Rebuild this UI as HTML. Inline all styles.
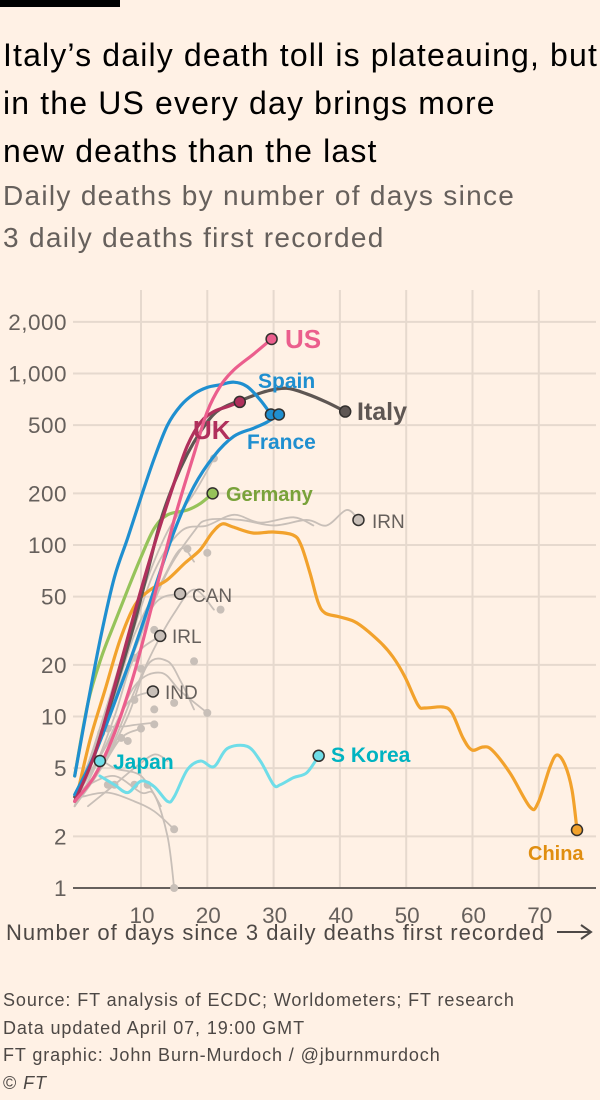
<!DOCTYPE html>
<html><head><meta charset="utf-8"><style>
body{margin:0;background:#fff1e5;}
#w{position:relative;width:600px;height:1100px;background:#fff1e5;font-family:"Liberation Sans",sans-serif;overflow:hidden}
.t{position:absolute;left:3px;color:#000;font-size:32px;line-height:48px;top:31px;letter-spacing:1.15px;white-space:nowrap}
.s{position:absolute;left:3px;color:#66605c;font-size:28px;line-height:42px;top:175px;letter-spacing:1.3px;white-space:nowrap}
.f{position:absolute;left:3px;color:#4d4845;font-size:18px;line-height:27.5px;top:987px;letter-spacing:0.9px;white-space:nowrap}
svg{position:absolute;left:0;top:0}
</style></head><body><div id="w">
<div style="position:absolute;left:0;top:0;width:120px;height:7px;background:#000"></div>
<div class="t">Italy’s daily death toll is plateauing, but<br>in the US every day brings more<br>new deaths than the last</div>
<div class="s">Daily deaths by number of days since<br>3 daily deaths first recorded</div>
<svg id="c" width="600" height="1100" viewBox="0 0 600 1100"></svg>
<div class="f">Source: FT analysis of ECDC; Worldometers; FT research<br>Data updated April 07, 19:00 GMT<br>FT graphic: John Burn-Murdoch / @jburnmurdoch<br>© <i>FT</i></div>
</div>
<script>
const svg=document.getElementById('c');let h='';
const Y=v=>888-171.5*Math.log10(v), X=d=>74.7+6.63*d;
[[2000,'2,000'],[1000,'1,000'],[500,'500'],[200,'200'],[100,'100'],[50,'50'],[20,'20'],[10,'10'],[5,'5'],[2,'2'],[1,'1']].forEach(([v,l])=>{const y=Y(v);
 if(v>1)h+=`<line x1="73" x2="596" y1="${y}" y2="${y}" stroke="#e6d9ce" stroke-width="2"/>`;
 h+=`<text x="67" y="${y+8}" text-anchor="end" font-size="22.5" letter-spacing="0.5" fill="#66605c">${l}</text>`;});
for(let d=10;d<=70;d+=10){const x=X(d);h+=`<line x1="${x}" x2="${x}" y1="290" y2="888" stroke="#e6d9ce" stroke-width="2"/><text x="${x+1}" y="923" text-anchor="middle" font-size="22.5" fill="#66605c">${d}</text>`;}
h+=`<line x1="73" x2="596" y1="888" y2="888" stroke="#66605c" stroke-width="2"/>`;
function sm(p){let s=`M${p[0][0]},${p[0][1]}`;for(let i=0;i<p.length-1;i++){const a=p[Math.max(0,i-1)],b=p[i],c=p[i+1],d=p[Math.min(p.length-1,i+2)];
 s+=` C${b[0]+(c[0]-a[0])/6},${b[1]+(c[1]-a[1])/6} ${c[0]-(d[0]-b[0])/6},${c[1]-(d[1]-b[1])/6} ${c[0]},${c[1]}`;}return s;}
function dv(arr){return arr.map(([d,v])=>[X(d),Y(v)]);}
function line(p,col,w){h+=`<path d="${sm(p)}" fill="none" stroke="${col}" stroke-width="${w}" stroke-linejoin="round" stroke-linecap="round"/>`;}
function dot(x,y,col,r){h+=`<circle cx="${x}" cy="${y}" r="${r||5.5}" fill="${col}" stroke="#33302e" stroke-width="1.5"/>`;}
function txt(x,y,s,col,sz,b){h+=`<text x="${x}" y="${y}" font-size="${sz}" fill="${col}" ${b?'font-weight="bold"':''}>${s}</text>`;}
const G='#c8bfb8';
const grays=[
[[0,3],[3,6],[6,12],[10,30],[14,70],[18,120],[20,140],[25,140],[30,130],[35,140],[38,130],[41,160],[42.8,140]],
[[0,3.5],[4,8],[8,20],[12,45],[15.9,52]],
[[0,3],[3,5],[6,10],[9,22],[12.9,29.5]],
[[0,3.3],[4,6],[8,12],[11.8,14]],
[[0,3],[5,6],[9,14],[12,25],[15,40],[18,55],[21,42]],
[[0,3.5],[5,7],[9,15],[13,18],[16,14],[20,10.5]],
[[1,3.4],[5,3.6],[9,3.2],[12,2.8],[15,2.2]],
[[2,4],[6,4.5],[10,3.6],[12,3.5],[14,2],[15,1]],
[[1,4],[4,8],[8,8.8],[12,9.2]],
[[1,3.7],[4,5],[7,7.5],[10,8.5]],
[[2,3],[6,4],[9,5],[12,6],[14,5.5]],
[[0,3],[4,5],[8,10],[11,20],[14,21],[16,16],[18,11]],
[[0,3],[5,10],[9,30],[13,60],[16,95],[18,80]],
[[0,3],[4,8],[8,25],[12,70],[16,120],[20,130],[24,150],[28,135],[33,145],[36,130]],
[[0,3],[5,12],[10,50],[14,120],[18,200],[21,320]],
[[3,6],[6,5],[10,4.5],[13,3]],
];
grays.forEach(a=>line(dv(a),G,1.8));
[[15,1],[15,2.2],[12,11],[20,10.5],[9,12.5],[10,8.5],[12,9],[11,4],[9,4],[5,4],[6,4],[4,8],[5,8.5],[7,7.5],[8,7.2],[9,22],[10,19],[12,32],[22,42],[20,90],[17,95],[18,21],[21,320],[15,12]].forEach(([d,v])=>h+=`<circle cx="${X(d)}" cy="${Y(v)}" r="4" fill="${G}"/>`);
line([[76,800],[90,740],[105,690],[120,640],[135,605],[150,590],[167,580],[185,563],[200,550],[212,533],[222,524],[233,527],[253,533],[273,532],[293,535],[301,545],[310,573],[318,602],[325,613],[340,617],[357,623],[380,642],[393,657],[405,677],[418,705],[425,708],[443,707],[452,713],[463,738],[472,750],[483,747],[492,750],[510,773],[530,807],[538,803],[550,767],[557,755],[565,765],[572,790],[577,830]],'#f2a22c',3.2);
line(dv([[3.8,4.5],[6,4],[8,3.6],[10,4.2],[12,3.9],[14,3.2],[15,3.4],[17,4.9],[19,5.5],[21,5.1],[23,6.5],[26,6.7],[28,5.5],[30,4],[31,4],[33,4.4],[35,4.7],[36.8,5.9]]),'#6fdde8',3);
line(dv([[0,4.5],[2,12],[4,22],[6,35],[8,55],[10,85],[12,125],[14,150],[17,160],[19,175],[20.8,200]]),'#96c35a',3.2);
line(dv([[0,3.4],[3,6],[6,14],[9,35],[11,70],[13,140],[15,230],[17,340],[19,460],[21,580],[23,650],[26,720],[29,790],[32,820],[35,760],[38,680],[40.8,600]]),'#5e5653',3.2);
line(dv([[0,3.5],[3,6],[6,12],[9,25],[12,55],[15,120],[18,220],[21,330],[24,430],[27,480],[29,520],[30.8,577]]),'#1f8fd0',3.2);
line(dv([[0,4.5],[2,12],[4,30],[6,65],[8,110],[10,190],[12,320],[14,500],[16,650],[18,760],[20,830],[22,860],[24,890],[26,840],[28,700],[29.6,577]]),'#1f8fd0',3.2);
line(dv([[0,3.2],[3,6],[6,15],[9,40],[12,100],[15,230],[17,380],[19,520],[21,600],[23,640],[24.9,683]]),'#b0305c',3.2);
line(dv([[0,3.2],[3,4.5],[6,8],[9,18],[12,50],[15,140],[18,340],[20,600],[22,850],[24,1050],[27,1300],[29.7,1590]]),'#eb5e8d',3.2);
dot(X(42.8),Y(140),G);dot(X(15.9),Y(52),G);dot(X(12.9),Y(29.5),G);dot(X(11.8),Y(14),G);
dot(577,830,'#f2a22c');dot(X(3.8),Y(5.5),'#6fdde8');dot(X(36.8),Y(5.9),'#6fdde8');
dot(X(20.8),Y(200),'#96c35a');dot(X(40.8),Y(600),'#5e5653');dot(X(24.9),Y(683),'#b0305c');
dot(X(29.6),Y(577),'#1f8fd0');dot(X(30.8),Y(577),'#1f8fd0');dot(X(29.7),Y(1590),'#eb5e8d');
txt(285,348,'US','#eb5e8d',26,1);txt(258,388,'Spain','#1f8fd0',21,1);txt(357,420,'Italy','#5e5653',25,1);
txt(193,439,'UK','#b0305c',26,1);txt(247,449,'France','#1f8fd0',21,1);txt(226,501,'Germany','#79a23a',20,1);
txt(372,528,'IRN','#66605c',19);txt(192,602,'CAN','#66605c',19);txt(172,643,'IRL','#66605c',19);txt(165,699,'IND','#66605c',19);
txt(113,769,'Japan','#00b3c1',21,1);txt(331,762,'S Korea','#00b3c1',21,1);txt(528,860,'China','#e08e10',20,1);
h+=`<text x="6" y="940" font-size="22" letter-spacing="1.0" fill="#4d4845">Number of days since 3 daily deaths first recorded</text>`;
h+=`<line x1="557" x2="590" y1="932" y2="932" stroke="#4d4845" stroke-width="2"/><path d="M581,925 L591,932 L581,939" fill="none" stroke="#4d4845" stroke-width="2"/>`;
svg.innerHTML=h;
</script></body></html>
